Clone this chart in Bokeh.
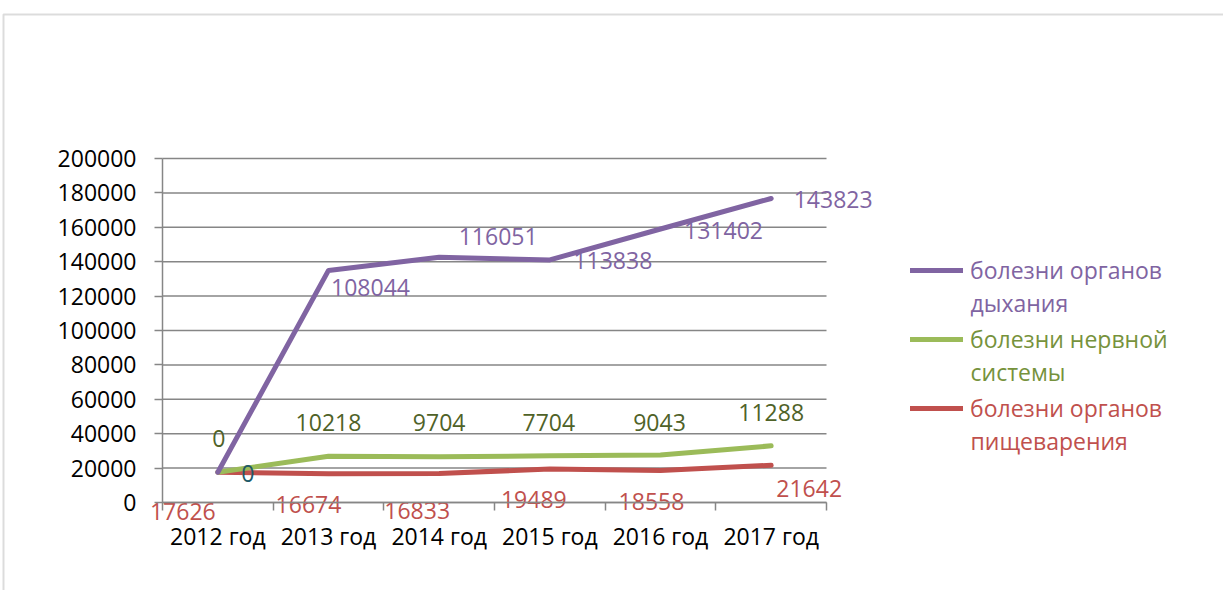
from bokeh.plotting import figure
from bokeh.models import (ColumnDataSource, Range1d, FixedTicker, Legend, LegendItem,
                          BasicTickFormatter, BoxAnnotation, LinearAxis, Label)
from bokeh.core.properties import value
from bokeh.embed import file_html
from bokeh.resources import INLINE

# ---- data ----
years = ["2012 год", "2013 год", "2014 год", "2015 год", "2016 год", "2017 год"]
respiratory = [0, 108044, 116051, 113838, 131402, 143823]
nervous = [0, 10218, 9704, 7704, 9043, 11288]
digestive = [17626, 16674, 16833, 19489, 18558, 21642]
series_line1 = ["болезни органов", "болезни нервной", "болезни органов"]
series_line2 = ["дыхания", "системы", "пищеварения"]
y_ticks = list(range(0, 200001, 20000))
y_max = 200000

# ---- label placement (pixel offsets from each point) ----
red_dx = [-35, -20, -22, -16, -9, 38]
red_dy = [39, 31, 37, 31, 31, 23]
green_dx = [1, 0, 0, -1, -1, 0]
green_dy = [-34, -34, -34, -33, -33, -33]
purple_dx = [30, 42, 59, 63, 63, 62]
purple_dy = [1, 17, -21, 1, 1, 1]

FONT = "Open Sans"
FS = "23px"
PURPLE, GREEN, RED = "#8064A2", "#9BBB59", "#C0504D"
AXIS_GRAY = "#868686"

# ---- layout (pixels) ----
W, H = 1223, 590
PL, PR, PT, PB = 162, 826, 158, 502     # plot area edges
ncat = len(years)
xs_px = (PR - PL) / ncat
ys_px = (PB - PT) / y_max
x_range = Range1d(-PL / xs_px, (W - PL) / xs_px)
y_range = Range1d(-(H - PB) / ys_px, PB / ys_px)

# stacked line chart: cumulative values
xs = [i + 0.5 for i in range(ncat)]
red_cum = list(digestive)
green_cum = [a + b for a, b in zip(red_cum, nervous)]
purple_cum = [a + b for a, b in zip(green_cum, respiratory)]

p = figure(width=W, height=H, output_backend="svg", toolbar_location=None,
           x_range=x_range, y_range=y_range,
           x_axis_location=None, y_axis_location=None, min_border=0)
p.outline_line_color = None
p.background_fill_color = "white"
p.border_fill_color = "white"
p.grid.visible = False

# outer chart border
p.add_layout(BoxAnnotation(left=3, right=3000, top=H - 14, bottom=-1000,
                           left_units="screen", right_units="screen",
                           top_units="screen", bottom_units="screen",
                           fill_alpha=0, line_color="#8c8c8c", line_width=2))

# horizontal gridlines
p.segment(x0=[0] * len(y_ticks), x1=[ncat] * len(y_ticks), y0=y_ticks, y1=y_ticks,
          line_color=AXIS_GRAY, line_width=1.5)

# axes
xa = LinearAxis(fixed_location=0, bounds=(0, ncat))
xa.ticker = FixedTicker(ticks=xs, minor_ticks=list(range(ncat + 1)))
xa.major_label_overrides = {x: y for x, y in zip(xs, years)}
xa.major_tick_out = 0
xa.major_tick_in = 0
xa.minor_tick_out = 8
xa.minor_tick_in = 0
xa.minor_tick_line_color = AXIS_GRAY
xa.minor_tick_line_width = 1.5
xa.axis_line_color = AXIS_GRAY
xa.axis_line_width = 1.5
xa.major_label_standoff = 9
xa.major_label_text_font = FONT
xa.major_label_text_font_size = FS
xa.major_label_text_color = "black"
p.add_layout(xa, "below")

ya = LinearAxis(fixed_location=0, bounds=(0, y_max))
ya.ticker = FixedTicker(ticks=y_ticks, minor_ticks=[])
ya.formatter = BasicTickFormatter(use_scientific=False)
ya.major_tick_out = 8
ya.major_tick_in = 0
ya.major_tick_line_color = AXIS_GRAY
ya.major_tick_line_width = 1.5
ya.minor_tick_line_color = None
ya.axis_line_color = AXIS_GRAY
ya.axis_line_width = 1.5
ya.major_label_standoff = 18
ya.major_label_text_font = FONT
ya.major_label_text_font_size = FS
ya.major_label_text_color = "black"
p.add_layout(ya, "left")

# lines
r_red = p.line(xs, red_cum, line_color=RED, line_width=5, line_cap="round", line_join="round")
r_green = p.line(xs, green_cum, line_color=GREEN, line_width=5, line_cap="round", line_join="round")
r_purple = p.line(xs, purple_cum, line_color=PURPLE, line_width=5, line_cap="round", line_join="round")

# data labels
def add_labels(vals, cum, dx, dy, colors):
    src = ColumnDataSource(dict(x=xs, y=cum, t=[str(v) for v in vals],
                                dx=dx, dy=dy, c=colors))
    p.text(x="x", y="y", text="t", x_offset="dx", y_offset="dy", text_color="c",
           source=src, text_font=value(FONT), text_font_size=FS,
           text_align="center", text_baseline="middle")

add_labels(digestive, red_cum, red_dx, red_dy, [RED] * 6)
add_labels(nervous, green_cum, green_dx, green_dy, ["#4F6228"] * 6)
add_labels(respiratory, purple_cum, purple_dx, purple_dy, ["#215968"] + [PURPLE] * 5)

# legends (one per series, for individual text colours); second line as a label
LEG_X, TXT_X = 910, 970
for r, l1, l2, col, y1 in [(r_purple, series_line1[0], series_line2[0], PURPLE, 270),
                           (r_green, series_line1[1], series_line2[1], "#76923C", 339),
                           (r_red, series_line1[2], series_line2[2], RED, 408)]:
    lg = Legend(items=[LegendItem(label=l1, renderers=[r])],
                location=(LEG_X, H - y1 - 15.5),
                label_text_color=col, label_text_font=FONT, label_text_font_size=FS,
                glyph_width=53, glyph_height=20, label_standoff=7, padding=0, margin=0,
                spacing=0, border_line_alpha=0, background_fill_alpha=0)
    p.add_layout(lg)
    p.add_layout(Label(x=TXT_X, y=H - y1 - 32, x_units="screen", y_units="screen",
                       text=l2, text_color=col, text_font=FONT,
                       text_font_size=FS, text_align="left", text_baseline="middle"))

open("out.html", "w").write(file_html(p, INLINE))
